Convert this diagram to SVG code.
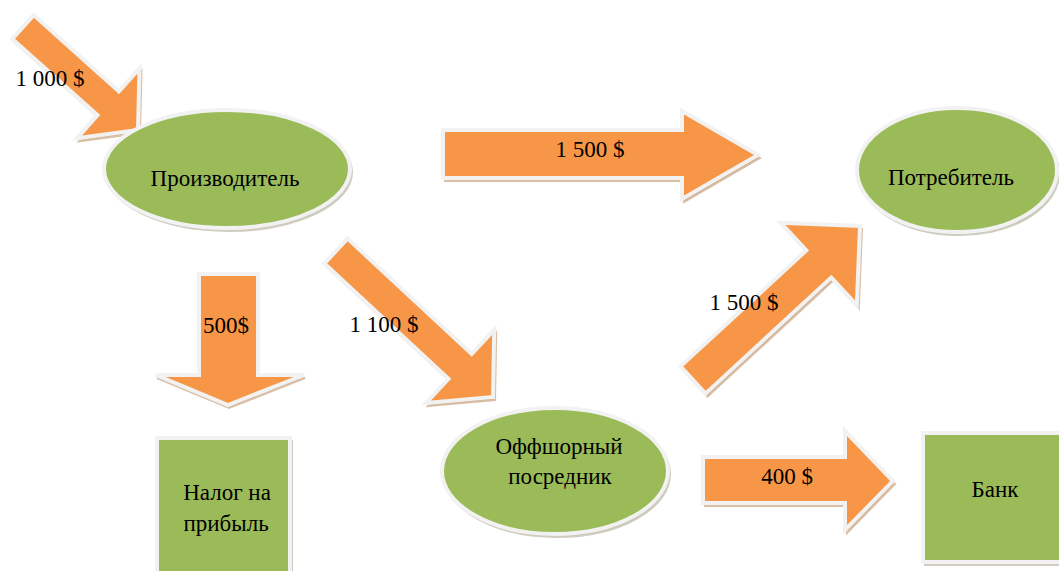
<svg xmlns="http://www.w3.org/2000/svg" width="1059" height="571" viewBox="0 0 1059 571">
<style>
.arr{fill:#F79646;stroke:#F2F2F2;stroke-width:4;stroke-linejoin:miter}
.ash{fill:#C9A27E;stroke:#D9BFA6;stroke-width:2}
.nd{fill:#9BBB59;stroke:#F2F2F2;stroke-width:4}
.nsh{fill:#C4C0B2;stroke:#D0CCC0;stroke-width:2}
.t{font-family:"Liberation Serif","Times New Roman",serif;font-size:23px;fill:#000;text-anchor:middle}
</style>
<rect width="1059" height="571" fill="#FFFFFF"/>
<g id="connectors">
  <g id="arrow-1000">
    <polygon class="ash" transform="translate(2,3)" points="33.7,15.1 118.9,91.4 139.5,68.3 138,130 76.9,138.3 97.5,115.2 12.3,38.9"/>
    <polygon class="arr" points="33.7,15.1 118.9,91.4 139.5,68.3 138,130 76.9,138.3 97.5,115.2 12.3,38.9"/>
    <text class="t" x="50" y="86">1 000 $</text>
  </g>
  <g id="arrow-1500-top">
    <polygon class="ash" transform="translate(2,3)" points="443,130 682,130 682,111 758,155 682,199 682,178 443,178"/>
    <polygon class="arr" points="443,130 682,130 682,111 758,155 682,199 682,178 443,178"/>
    <text class="t" x="590" y="157">1 500 $</text>
  </g>
  <g id="arrow-500">
    <polygon class="ash" transform="translate(1,3)" points="199,274 258,274 258,375 304,375 228,405 156,375 199,375"/>
    <polygon class="arr" points="199,274 258,274 258,375 304,375 228,405 156,375 199,375"/>
    <text class="t" x="226" y="333">500$</text>
  </g>
  <g id="arrow-1100">
    <polygon class="ash" transform="translate(2,3)" points="347.6,238.6 471.7,354 494.2,329.8 493,397 426,403 448.5,378.8 324.4,263.4"/>
    <polygon class="arr" points="347.6,238.6 471.7,354 494.2,329.8 493,397 426,403 448.5,378.8 324.4,263.4"/>
    <text class="t" x="384" y="332">1 100 $</text>
  </g>
  <g id="arrow-1500-up">
    <polygon class="ash" transform="translate(2,3)" points="680.5,366.4 806.3,250.4 780.8,222.8 860,226 856.8,305.2 831.3,277.6 705.5,393.6"/>
    <polygon class="arr" points="680.5,366.4 806.3,250.4 780.8,222.8 860,226 856.8,305.2 831.3,277.6 705.5,393.6"/>
    <text class="t" x="744" y="310">1 500 $</text>
  </g>
  <g id="arrow-400">
    <polygon class="ash" transform="translate(2,3)" points="703,457 845,457 845,431 893,481 845,530 845,503 703,503"/>
    <polygon class="arr" points="703,457 845,457 845,431 893,481 845,530 845,503 703,503"/>
    <text class="t" x="787" y="484">400 $</text>
  </g>
</g>
<g id="producer">
  <ellipse class="nsh" cx="229" cy="172" rx="123" ry="59"/>
  <ellipse class="nd" cx="227" cy="169" rx="123" ry="59"/>
  <text class="t" x="225" y="186">Производитель</text>
</g>
<g id="consumer">
  <ellipse class="nsh" cx="959" cy="173" rx="100" ry="62"/>
  <ellipse class="nd" cx="957" cy="170" rx="100" ry="62"/>
  <text class="t" x="951" y="185">Потребитель</text>
</g>
<g id="offshore">
  <ellipse class="nsh" cx="557" cy="474" rx="113" ry="63"/>
  <ellipse class="nd" cx="555" cy="471" rx="113" ry="63"/>
  <text class="t" x="559" y="454">Оффшорный</text>
  <text class="t" x="560" y="484">посредник</text>
</g>
<g id="tax">
  <rect class="nsh" x="159" y="441" width="133" height="150"/>
  <rect class="nd" x="157" y="438" width="133" height="150"/>
  <text class="t" x="227" y="500">Налог на</text>
  <text class="t" x="226" y="531">прибыль</text>
</g>
<g id="bank">
  <rect class="nsh" x="925" y="436" width="150" height="129"/>
  <rect class="nd" x="923" y="433" width="150" height="129"/>
  <text class="t" x="995" y="497">Банк</text>
</g>
</svg>
